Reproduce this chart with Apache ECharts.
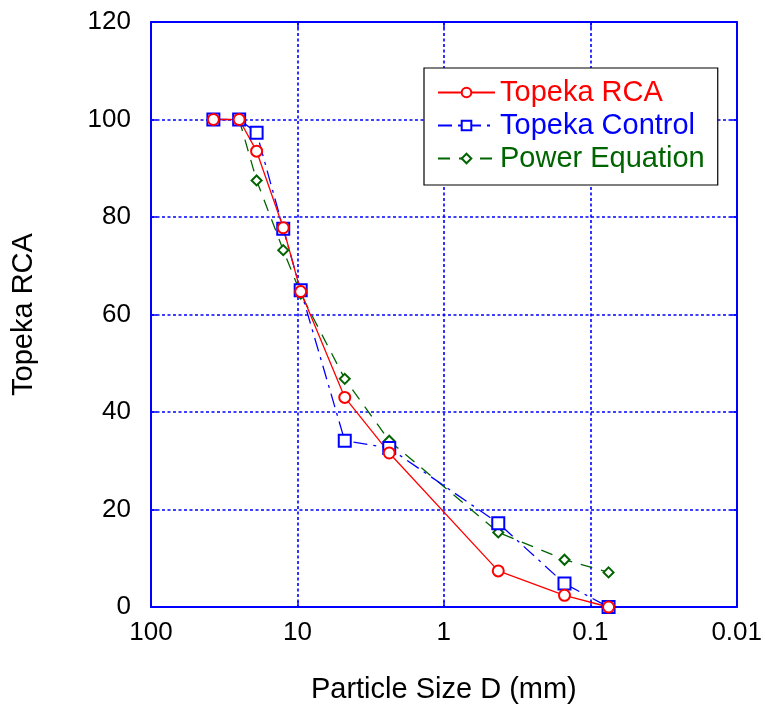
<!DOCTYPE html>
<html>
<head>
<meta charset="utf-8">
<script src="https://cdn.jsdelivr.net/npm/echarts@6/dist/echarts.min.js"></script>
<style>
  html, body { margin: 0; padding: 0; background: #fff; }
  #chart { width: 765px; height: 711px; }
</style>
</head>
<body>
<div id="chart"></div>
<script>
// Sieve sizes (mm) and percent passing for each gradation curve
const sieveSizes = [37.5, 25, 19, 12.5, 9.5, 4.75, 2.36, 0.425, 0.15, 0.075];
const topekaRCA = [100, 100, 93.5, 77.8, 64.7, 43.0, 31.6, 7.4, 2.4, 0];
const topekaControl = [100, 100, 97.3, 77.6, 65.0, 34.1, 32.6, 17.2, 4.8, 0];
const powerEquation = [null, 100, 87.5, 73.2, 64.3, 46.8, 34.1, 15.3, 9.7, 7.1];
const xTickLabels = ['100', '10', '1', '0.1', '0.01'];
const yTickLabels = [0, 20, 40, 60, 80, 100, 120];

const FONT = 'Liberation Sans, Arial, sans-serif';
const BLUE = '#0000ff';

function pairs(ys) {
  const out = [];
  ys.forEach((v, i) => { if (v !== null) out.push([sieveSizes[i], v]); });
  return out;
}

const chart = echarts.init(document.getElementById('chart'), null, { renderer: 'canvas' });

const gridLine = { show: true, lineStyle: { color: BLUE, type: [3, 2.5], width: 1.6 } };
const axisLine = { show: true, onZero: false, lineStyle: { color: BLUE, width: 2 } };
const axisTick = { show: true, inside: true, length: 6, lineStyle: { color: BLUE, width: 1.5 } };

chart.setOption({
  animation: false,
  backgroundColor: '#fff',
  grid: { left: 151, right: 28, top: 22, bottom: 104, containLabel: false },
  xAxis: [{
    type: 'log', logBase: 10, min: 0.01, max: 100, inverse: true,
    name: 'Particle Size D (mm)', nameLocation: 'middle', nameGap: 68,
    nameTextStyle: { fontFamily: FONT, fontSize: 29, color: '#000' },
    axisLine, axisTick, splitLine: gridLine, minorTick: { show: false },
    axisLabel: {
      fontFamily: FONT, fontSize: 26, color: '#000', margin: 13,
      formatter: v => {
        const idx = Math.round(2 - Math.log10(v));
        return xTickLabels[idx] !== undefined ? xTickLabels[idx] : '';
      }
    }
  }, {
    type: 'log', logBase: 10, min: 0.01, max: 100, inverse: true, position: 'top',
    axisLine, axisTick, axisLabel: { show: false }, splitLine: { show: false }
  }],
  yAxis: [{
    type: 'value', min: 0, max: 120, interval: 20,
    name: 'Topeka RCA', nameLocation: 'middle', nameGap: 113, nameRotate: 90,
    nameTextStyle: { fontFamily: FONT, fontSize: 29, color: '#000' },
    axisLine, axisTick, splitLine: gridLine,
    axisLabel: {
      fontFamily: FONT, fontSize: 26, color: '#000', margin: 20,
      formatter: v => yTickLabels.includes(v) ? String(v) : ''
    }
  }, {
    type: 'value', min: 0, max: 120, interval: 20, position: 'right',
    axisLine, axisTick, axisLabel: { show: false }, splitLine: { show: false }
  }],
  legend: {
    orient: 'vertical', left: 424, top: 68,
    backgroundColor: '#fff', borderColor: '#000', borderWidth: 1.2,
    padding: [10, 13, 12, 13], itemGap: 4, itemWidth: 57, itemHeight: 12,
    textStyle: { fontFamily: FONT, fontSize: 29 },
    data: [
      { name: 'Topeka RCA', textStyle: { color: '#ff0000' } },
      { name: 'Topeka Control', textStyle: { color: BLUE } },
      { name: 'Power Equation', textStyle: { color: '#006400' } }
    ]
  },
  series: [{
    name: 'Power Equation', type: 'line', data: pairs(powerEquation),
    symbol: 'emptyDiamond', symbolSize: 10,
    lineStyle: { color: '#006400', width: 1.3, type: [12, 9] },
    itemStyle: { color: '#006400', borderWidth: 1.3 }
  }, {
    name: 'Topeka Control', type: 'line', data: pairs(topekaControl),
    symbol: 'emptyRect', symbolSize: 12,
    lineStyle: { color: BLUE, width: 1.3, type: [14, 6, 3, 6] },
    itemStyle: { color: BLUE, borderWidth: 1.3 }
  }, {
    name: 'Topeka RCA', type: 'line', data: pairs(topekaRCA),
    symbol: 'emptyCircle', symbolSize: 11,
    lineStyle: { color: '#ff0000', width: 1.3, type: 'solid' },
    itemStyle: { color: '#ff0000', borderWidth: 1.3 }
  }]
});
</script>
</body>
</html>
